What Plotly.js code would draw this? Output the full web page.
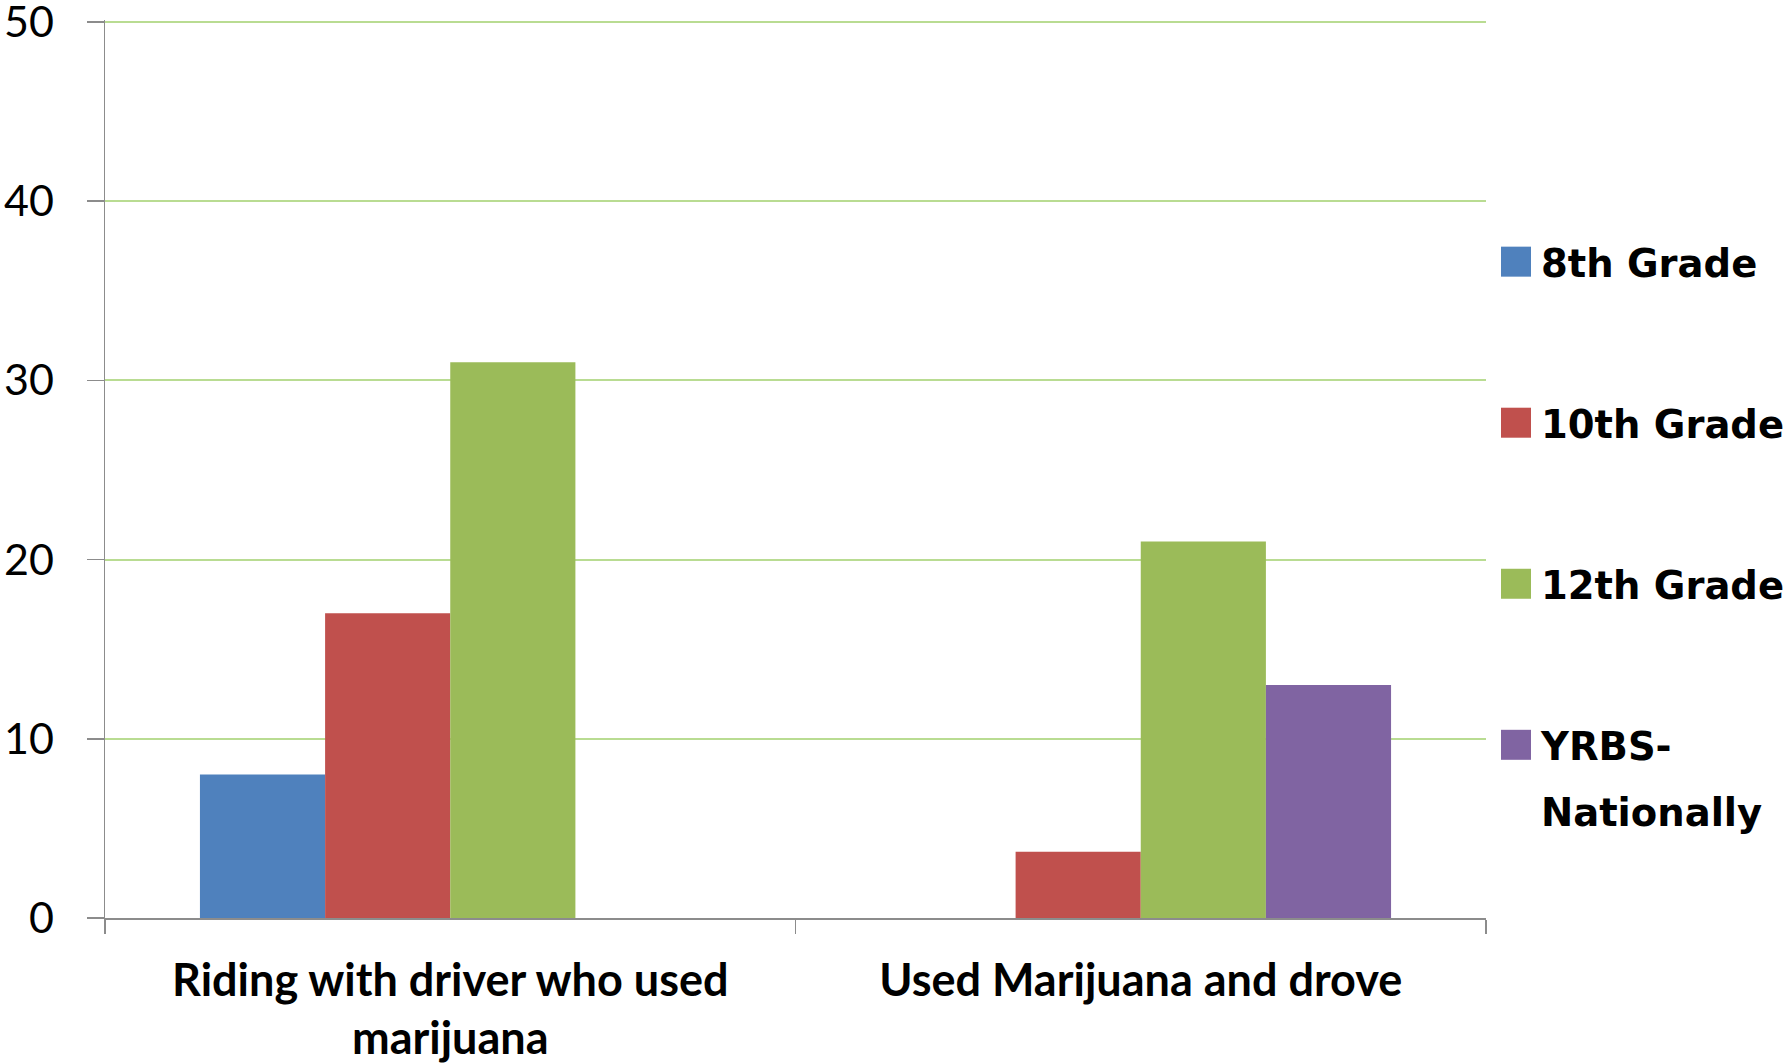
<!DOCTYPE html>
<html>
<head>
<meta charset="utf-8">
<script src="https://cdn.plot.ly/plotly-3.0.1.min.js"></script>
<style>html,body{margin:0;padding:0;background:#fff;}#chart{width:1791px;height:1063px;}</style>
</head>
<body>
<div id="chart"></div>
<script>
var categories = ["Riding with driver who used<br>marijuana", "Used Marijuana and drove"];
var seriesNames = ["8th Grade", "10th Grade", "12th Grade", "YRBS-<br>Nationally"];
var grade8 = [8, null];
var grade10 = [17, 3.7];
var grade12 = [31, 21];
var yrbsNational = [null, 13];
var yTicks = [0, 10, 20, 30, 40, 50];

var colors = ["#4F81BD", "#C0504D", "#9BBB59", "#8064A2"];
var values = [grade8, grade10, grade12, yrbsNational];

var traces = values.map(function (v, i) {
  return {
    type: "bar",
    name: seriesNames[i],
    x: categories,
    y: v,
    marker: {color: colors[i], line: {width: 0}},
    legendgroup: "g" + i,
    hoverinfo: "skip"
  };
});

var layout = {
  width: 1791,
  height: 1063,
  paper_bgcolor: "#ffffff",
  plot_bgcolor: "#ffffff",
  margin: {l: 105, r: 305, t: 20, b: 145},
  barmode: "group",
  bargap: 0.275,
  bargroupgap: 0,
  showlegend: true,
  legend: {
    xref: "container",
    x: 0.8325, xanchor: "left",
    y: 0.766, yanchor: "top",
    font: {family: "DejaVu Sans", size: 38.5, color: "#000", weight: "bold"},
    traceorder: "grouped",
    tracegroupgap: 108,
    valign: "top",
    itemwidth: 40,
    bgcolor: "rgba(0,0,0,0)"
  },
  xaxis: {
    type: "category",
    showline: true,
    linecolor: "#8c8c8c",
    linewidth: 1.5,
    ticks: "outside",
    tickson: "boundaries",
    ticklen: 14,
    tickwidth: 1.5,
    tickcolor: "#8c8c8c",
    showgrid: false,
    tickfont: {family: "Lato", size: 45, color: "#000", weight: "bold"},
    ticklabelstandoff: 22
  },
  yaxis: {
    range: [0, 50.1],
    tickvals: yTicks,
    ticktext: yTicks.map(String),
    showline: true,
    linecolor: "#8c8c8c",
    linewidth: 1.5,
    ticks: "outside",
    ticklen: 17,
    tickwidth: 1.5,
    tickcolor: "#8c8c8c",
    showgrid: true,
    gridcolor: "#b9dc92",
    gridwidth: 2,
    zeroline: false,
    tickfont: {family: "Lato", size: 43, color: "#000"},
    ticklabelstandoff: 24,
    ticklabeloverflow: "allow"
  },
  font: {family: "Lato", color: "#000"}
};

Plotly.newPlot("chart", traces, layout, {staticPlot: true, displayModeBar: false}).then(function () {
  document.querySelectorAll(".legend .legendpoints path").forEach(function (p) {
    var t = p.getAttribute("transform") || "";
    p.setAttribute("transform", t + " scale(2.5)");
  });
  document.querySelectorAll(".legend text.legendtext").forEach(function (t) {
    var lines = t.querySelectorAll("tspan.line");
    if (lines.length > 1) {
      lines[1].setAttribute("dy", "1.72em");
    }
  });
  document.querySelectorAll(".legend .scrollbox, .legend [clip-path]").forEach(function (e) {
    e.removeAttribute("clip-path");
  });
});
</script>
</body>
</html>
